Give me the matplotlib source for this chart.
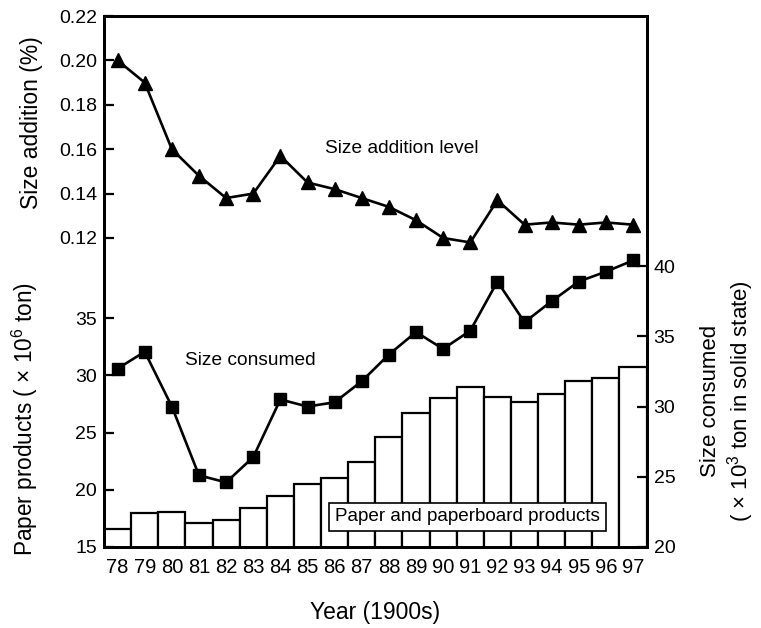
import numpy as np
import matplotlib
matplotlib.use("Agg")
import matplotlib.pyplot as plt

plt.rcParams['font.family'] = ['Liberation Sans', 'DejaVu Sans']
plt.rcParams['mathtext.fontset'] = 'custom'
plt.rcParams['mathtext.rm'] = 'Liberation Sans'
plt.rcParams['mathtext.it'] = 'Liberation Sans:italic'

# data
years = [78, 79, 80, 81, 82, 83, 84, 85, 86, 87, 88, 89, 90, 91, 92, 93, 94, 95, 96, 97]
paper_products = [16.6, 18.0, 18.1, 17.1, 17.4, 18.4, 19.45, 20.5, 21.0, 22.4,
                  24.6, 26.7, 28.0, 29.0, 28.1, 27.7, 28.4, 29.5, 29.8, 30.7]
size_consumed = [32.7, 33.9, 30.0, 25.1, 24.6, 26.4, 30.5, 30.0, 30.3, 31.8,
                 33.7, 35.3, 34.1, 35.4, 38.9, 36.0, 37.5, 38.9, 39.6, 40.4]
size_addition = [0.200, 0.190, 0.160, 0.148, 0.138, 0.140, 0.157, 0.145, 0.142, 0.138,
                 0.134, 0.128, 0.120, 0.118, 0.137, 0.126, 0.127, 0.126, 0.127, 0.126]

left_ticks = [15, 20, 25, 30, 35]
right_ticks = [20, 25, 30, 35, 40]
addition_ticks = [0.12, 0.14, 0.16, 0.18, 0.20, 0.22]

fig = plt.figure(figsize=(7.61, 6.28), dpi=100)
ax = fig.add_axes([0.1367, 0.129, 0.713, 0.8455])

# bars: paper and paperboard products
ax.bar(years, paper_products, width=1.0, bottom=0, color='white',
       edgecolor='black', linewidth=1.6)
ax.set_xlim(77.5, 97.5)
ax.set_ylim(15, 61.4)
ax.set_yticks(left_ticks)
ax.set_xticks(years)
ax.set_xticklabels([str(y) for y in years])
ax.tick_params(axis='x', length=0, pad=8, labelsize=14.5)
ax.tick_params(axis='y', direction='in', length=7, width=1.6, labelsize=14, pad=5)
ax.set_xlabel('Year (1900s)', fontsize=16.5, labelpad=17)
ax.set_ylabel('Paper products ( × 10$^{6}$ ton)', fontsize=16.3)
ax.yaxis.set_label_coords(-0.118, 0.24)

# size consumed (right axis)
ax2 = ax.twinx()
ax2.plot(years, size_consumed, color='black', linewidth=1.9, marker='s',
         markersize=9)
ax2.set_ylim(20, 57.8)
ax2.set_yticks(right_ticks)
ax2.tick_params(axis='y', direction='in', length=7, width=1.6, labelsize=14, pad=5)
ax2.text(1.15, 0.275, 'Size consumed\n( × 10$^{3}$ ton in solid state)',
         transform=ax2.transAxes, rotation=90, ha='center', va='center',
         multialignment='center', fontsize=16, linespacing=1.2)

# size addition (left, upper)
ax3 = ax.twinx()
ax3.plot(years, size_addition, color='black', linewidth=1.9, marker='^',
         markersize=10.5)
ax3.set_ylim(-0.0192, 0.22)
ax3.set_yticks(addition_ticks)
ax3.set_yticklabels(['%.2f' % t for t in addition_ticks])
ax3.yaxis.tick_left()
ax3.yaxis.set_label_position('left')
ax3.tick_params(axis='y', direction='in', length=7, width=1.6, labelsize=14, pad=5)
ax3.set_ylabel('Size addition (%)', fontsize=16.5)
ax3.yaxis.set_label_coords(-0.112, 0.80)

ax3.text(0.407, 0.751, 'Size addition level', transform=ax3.transAxes,
         ha='left', va='center', fontsize=13.8)
ax3.text(0.149, 0.352, 'Size consumed', transform=ax3.transAxes,
         ha='left', va='center', fontsize=13.8)
ax3.text(0.670, 0.0565, 'Paper and paperboard products', transform=ax3.transAxes,
         ha='center', va='center', fontsize=13.6,
         bbox=dict(boxstyle='square,pad=0.3', facecolor='white',
                   edgecolor='black', linewidth=1.2))

for a in (ax, ax2, ax3):
    for s in a.spines.values():
        s.set_linewidth(1.9)

fig.savefig('out.png', dpi=100)
